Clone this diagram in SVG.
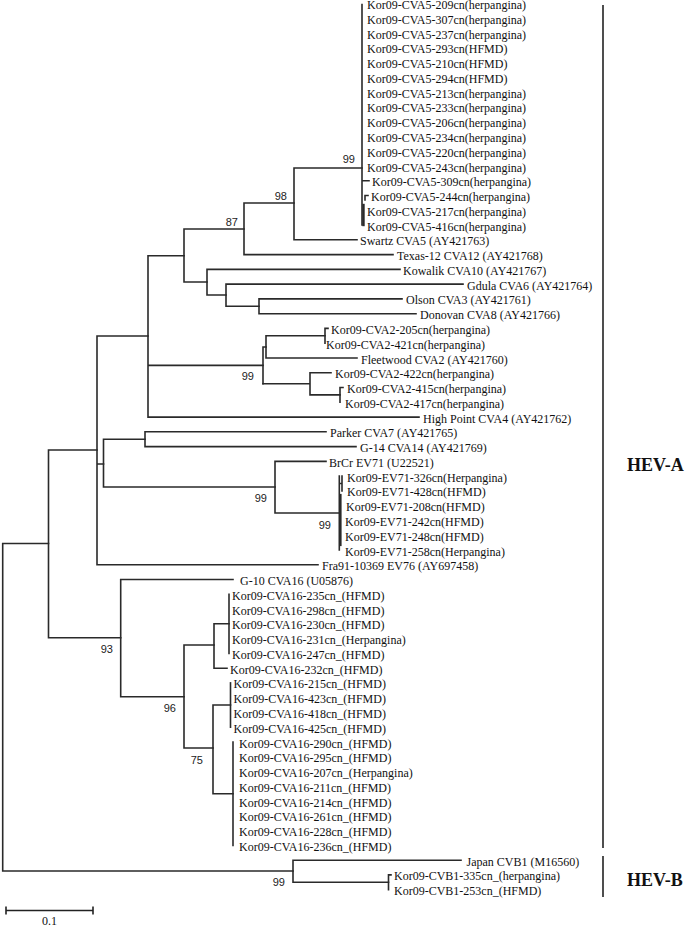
<svg xmlns="http://www.w3.org/2000/svg" width="685" height="926" viewBox="0 0 685 926">
<style>
.t{font-family:"Liberation Serif","Times New Roman",serif;font-size:12px;fill:#111}
.b{font-family:"Liberation Sans",Arial,sans-serif;font-size:11px;fill:#222;text-anchor:end}
.c{font-family:"Liberation Serif","Times New Roman",serif;font-size:18px;font-weight:bold;fill:#111}
.e{fill:none;stroke:#2a2a2a;stroke-width:1.6;stroke-linecap:square}
</style>
<rect width="685" height="926" fill="#fff"/>
<g id="branches" class="e">
<path d="M2.7,543.5V871M2.7,543.5H48.5M2.7,871H293"/>
<path d="M48.5,450V637.7M48.5,450H97M48.5,637.7H120.7"/>
<path d="M97,336V564.8M97,336H148M97,464H103.5M97,564.8H318"/>
<path d="M148,255.7V417.1M148,255.7H184M148,365.4H263M148,417.1H419"/>
<path d="M184,229V282M184,229H244M184,282H207"/>
<path d="M244,203V254.6M244,203H294M244,254.6H393"/>
<path d="M294,168V239.8M294,168H362M294,239.8H357"/>
<path d="M362,4.5V225M362,180.7H369M365,200V195.5H368"/>
<path d="M363.5,205V225" stroke-width="2.4"/>
<path d="M207,269.4V295M207,269.4H400M207,295H226"/>
<path d="M226,284.1V306.3M226,284.1H463M226,306.3H259"/>
<path d="M259,298.9V313.7M259,298.9H402M259,313.7H416"/>
<path d="M263,347V383.8M263,347H266"/>
<path d="M266,335.8V358M266,335.8H325M266,358H357"/>
<path d="M325,328.4V343.2M325,328.4H328"/>
<path d="M310,372.8V394.9M310,372.8H331M263,383.8H310M310,394.9H340"/>
<path d="M340,387.5V402.3M340,387.5H343"/>
<path d="M103.5,439.2V487M103.5,439.2H145M103.5,487H275"/>
<path d="M145,431.8V446.6M145,431.8H326M145,446.6H356"/>
<path d="M275,461.4V513M275,461.4H326M275,513H339.3"/>
<path d="M339.3,476V550M342,476V491M339.3,483.5H342"/>
<path d="M340.5,495V545" stroke-width="2.2"/>
<path d="M120.7,579.5V696.7M120.7,579.5H233M120.7,696.7H184"/>
<path d="M184,645V748M184,645H214M184,748H213"/>
<path d="M214,623.8V668.2M214,623.8H229M214,668.2H227"/>
<path d="M229,594.3V653.4"/>
<path d="M213,705V793.7M213,705H230.5M213,793.7H233"/>
<path d="M230.5,682.9V727.2"/>
<path d="M233,742V845.4"/>
<path d="M293,860.2V882.3M293,860.2H461M293,882.3H388.5"/>
<path d="M388.5,874.9V889.7M388.5,874.9H391"/>
</g>
<g id="bootstrap">
<text class="b" x="355" y="163">99</text>
<text class="b" x="287" y="200">98</text>
<text class="b" x="238" y="226">87</text>
<text class="b" x="254" y="380">99</text>
<text class="b" x="267" y="502">99</text>
<text class="b" x="331" y="529">99</text>
<text class="b" x="113" y="653">93</text>
<text class="b" x="176" y="712">96</text>
<text class="b" x="203" y="764">75</text>
<text class="b" x="285" y="886">99</text>
</g>
<g id="leaves" class="t" transform="translate(0,1.4)">
<g id="n0"><text x="367" y="7.7">Kor09-CVA5-209cn(herpangina)</text></g>
<g id="n1"><text x="367" y="22.5">Kor09-CVA5-307cn(herpangina)</text></g>
<g id="n2"><text x="367" y="37.2">Kor09-CVA5-237cn(herpangina)</text></g>
<g id="n3"><text x="367" y="52">Kor09-CVA5-293cn(HFMD)</text></g>
<g id="n4"><text x="367" y="66.8">Kor09-CVA5-210cn(HFMD)</text></g>
<g id="n5"><text x="367" y="81.6">Kor09-CVA5-294cn(HFMD)</text></g>
<g id="n6"><text x="367" y="96.3">Kor09-CVA5-213cn(herpangina)</text></g>
<g id="n7"><text x="367" y="111.1">Kor09-CVA5-233cn(herpangina)</text></g>
<g id="n8"><text x="367" y="125.9">Kor09-CVA5-206cn(herpangina)</text></g>
<g id="n9"><text x="367" y="140.6">Kor09-CVA5-234cn(herpangina)</text></g>
<g id="n10"><text x="367" y="155.4">Kor09-CVA5-220cn(herpangina)</text></g>
<g id="n11"><text x="367" y="170.2">Kor09-CVA5-243cn(herpangina)</text></g>
<g id="n12"><text x="372" y="184.9">Kor09-CVA5-309cn(herpangina)</text></g>
<g id="n13"><text x="371" y="199.7">Kor09-CVA5-244cn(herpangina)</text></g>
<g id="n14"><text x="367" y="214.5">Kor09-CVA5-217cn(herpangina)</text></g>
<g id="n15"><text x="367" y="229.3">Kor09-CVA5-416cn(herpangina)</text></g>
<g id="n16"><text x="360" y="244">Swartz CVA5 (AY421763)</text></g>
<g id="n17"><text x="397" y="258.8">Texas-12 CVA12 (AY421768)</text></g>
<g id="n18"><text x="403" y="273.6">Kowalik CVA10 (AY421767)</text></g>
<g id="n19"><text x="467" y="288.3">Gdula CVA6 (AY421764)</text></g>
<g id="n20"><text x="406" y="303.1">Olson CVA3 (AY421761)</text></g>
<g id="n21"><text x="420" y="317.9">Donovan CVA8 (AY421766)</text></g>
<g id="n22"><text x="331" y="332.6">Kor09-CVA2-205cn(herpangina)</text></g>
<g id="n23"><text x="326" y="347.4">Kor09-CVA2-421cn(herpangina)</text></g>
<g id="n24"><text x="361" y="362.2">Fleetwood CVA2 (AY421760)</text></g>
<g id="n25"><text x="335" y="377">Kor09-CVA2-422cn(herpangina)</text></g>
<g id="n26"><text x="347" y="391.7">Kor09-CVA2-415cn(herpangina)</text></g>
<g id="n27"><text x="345" y="406.5">Kor09-CVA2-417cn(herpangina)</text></g>
<g id="n28"><text x="423" y="421.3">High Point CVA4 (AY421762)</text></g>
<g id="n29"><text x="330" y="436">Parker CVA7 (AY421765)</text></g>
<g id="n30"><text x="360" y="450.8">G-14 CVA14 (AY421769)</text></g>
<g id="n31"><text x="329" y="465.6">BrCr EV71 (U22521)</text></g>
<g id="n32"><text x="347" y="480.3">Kor09-EV71-326cn(Herpangina)</text></g>
<g id="n33"><text x="347" y="495.1">Kor09-EV71-428cn(HFMD)</text></g>
<g id="n34"><text x="346" y="509.9">Kor09-EV71-208cn(HFMD)</text></g>
<g id="n35"><text x="345" y="524.7">Kor09-EV71-242cn(HFMD)</text></g>
<g id="n36"><text x="345" y="539.4">Kor09-EV71-248cn(HFMD)</text></g>
<g id="n37"><text x="345" y="554.2">Kor09-EV71-258cn(Herpangina)</text></g>
<g id="n38"><text x="322" y="569">Fra91-10369 EV76 (AY697458)</text></g>
<g id="n39"><text x="240" y="583.7">G-10 CVA16 (U05876)</text></g>
<g id="n40"><text x="232" y="598.5">Kor09-CVA16-235cn_(HFMD)</text></g>
<g id="n41"><text x="232" y="613.3">Kor09-CVA16-298cn_(HFMD)</text></g>
<g id="n42"><text x="232" y="628">Kor09-CVA16-230cn_(HFMD)</text></g>
<g id="n43"><text x="232" y="642.8">Kor09-CVA16-231cn_(Herpangina)</text></g>
<g id="n44"><text x="232" y="657.6">Kor09-CVA16-247cn_(HFMD)</text></g>
<g id="n45"><text x="230" y="672.4">Kor09-CVA16-232cn_(HFMD)</text></g>
<g id="n46"><text x="233.5" y="687.1">Kor09-CVA16-215cn_(HFMD)</text></g>
<g id="n47"><text x="233.5" y="701.9">Kor09-CVA16-423cn_(HFMD)</text></g>
<g id="n48"><text x="233.5" y="716.7">Kor09-CVA16-418cn_(HFMD)</text></g>
<g id="n49"><text x="233.5" y="731.4">Kor09-CVA16-425cn_(HFMD)</text></g>
<g id="n50"><text x="239" y="746.2">Kor09-CVA16-290cn_(HFMD)</text></g>
<g id="n51"><text x="239" y="761">Kor09-CVA16-295cn_(HFMD)</text></g>
<g id="n52"><text x="239" y="775.7">Kor09-CVA16-207cn_(Herpangina)</text></g>
<g id="n53"><text x="239" y="790.5">Kor09-CVA16-211cn_(HFMD)</text></g>
<g id="n54"><text x="239" y="805.3">Kor09-CVA16-214cn_(HFMD)</text></g>
<g id="n55"><text x="239" y="820">Kor09-CVA16-261cn_(HFMD)</text></g>
<g id="n56"><text x="239" y="834.8">Kor09-CVA16-228cn_(HFMD)</text></g>
<g id="n57"><text x="239" y="849.6">Kor09-CVA16-236cn_(HFMD)</text></g>
<g id="n58"><text x="466.5" y="864.4">Japan CVB1 (M16560)</text></g>
<g id="n59"><text x="394" y="879.1">Kor09-CVB1-335cn_(herpangina)</text></g>
<g id="n60"><text x="394" y="893.9">Kor09-CVB1-253cn_(HFMD)</text></g>
</g>
<g id="clade-HEV-A">
<path d="M603,5V848" stroke="#222" stroke-width="1.6"/>
<text class="c" x="627" y="471">HEV-A</text>
</g>
<g id="clade-HEV-B">
<path d="M603,856V897" stroke="#222" stroke-width="1.6"/>
<text class="c" x="627" y="886">HEV-B</text>
</g>
<g id="scale">
<path d="M6,910.5H93M6,906.5V914.5M93,906.5V914.5" stroke="#222" stroke-width="1.6" fill="none"/>
<text class="t" x="49.5" y="924.5" text-anchor="middle">0.1</text>
</g>
</svg>
